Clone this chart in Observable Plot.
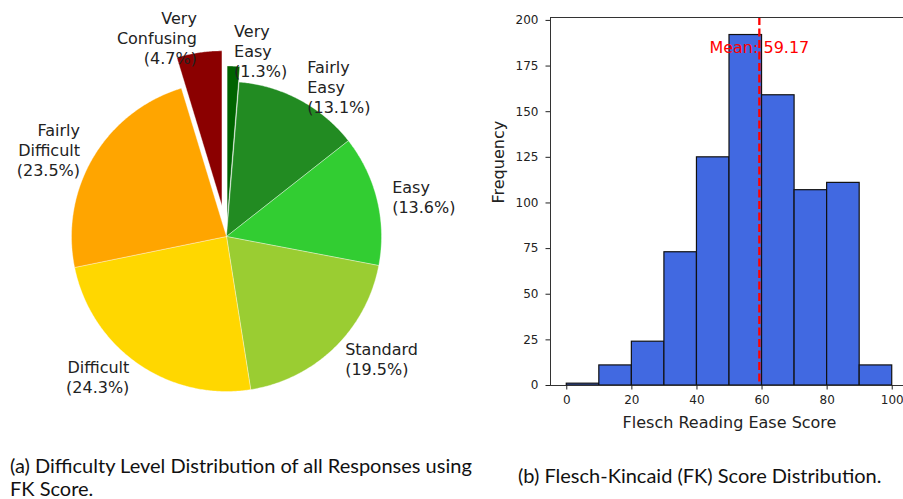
<!DOCTYPE html>
<html>
<head>
<meta charset="utf-8">
<script src="https://cdn.jsdelivr.net/npm/d3@7"></script>
<script src="https://cdn.jsdelivr.net/npm/@observablehq/plot@0.6"></script>
<style>
  html, body { margin: 0; padding: 0; background: #fff; }
  #page { position: relative; width: 903px; height: 499px; overflow: hidden; background: #fff; }
  #pie { position: absolute; left: 0; top: 0; width: 480px; height: 430px; }
  #hist { position: absolute; left: 480px; top: 0; width: 423px; height: 440px; overflow: hidden; }
  #page svg { max-width: none !important; }
  .cap { position: absolute; font-family: Lato, "Open Sans", sans-serif; font-size: 20px; color: #111; white-space: nowrap; line-height: 20px; height: 20px; }
</style>
</head>
<body>
<div id="page">
  <div id="pie"></div>
  <div id="hist"></div>
  <div class="cap" style="left:10px; top:455px;">(a) Difficulty Level Distribution of all Responses using</div>
  <div class="cap" style="left:10px; top:478px;">FK Score.</div>
  <div class="cap" style="left:518px; top:465px;">(b) Flesch-Kincaid (FK) Score Distribution.</div>
</div>
<script>
// ---------- Pie data ----------
const categories = ["Very Easy", "Fairly Easy", "Easy", "Standard", "Difficult", "Fairly Difficult", "Very Confusing"];
const labelLines = ["Very\nEasy", "Fairly\nEasy", "Easy", "Standard", "Difficult", "Fairly\nDifficult", "Very\nConfusing"];
const percents = [1.3, 13.1, 13.6, 19.5, 24.3, 23.5, 4.7];
const explode = [0.1, 0, 0, 0, 0, 0, 0.2];
const sliceColors = ["#006400", "#228B22", "#32CD32", "#9ACD32", "#FFD700", "#FFA500", "#8B0000"];

// ---------- Histogram data ----------
const binStarts = [0, 10, 20, 30, 40, 50, 60, 70, 80, 90];
const binWidth = 10;
const counts = [1, 11, 24, 73, 125, 192, 159, 107, 111, 11];
const meanScore = 59.17;
const xTicks = [0, 20, 40, 60, 80, 100];
const yTicks = [0, 25, 50, 75, 100, 125, 150, 175, 200];

// ---------- Pie geometry (angles from data, clockwise from top) ----------
const total = d3.sum(percents);
let cum = 0;
const slices = categories.map((c, i) => {
  const a0 = cum / total * 2 * Math.PI;
  cum += percents[i];
  const a1 = cum / total * 2 * Math.PI;
  const mid = (a0 + a1) / 2;
  const ox = explode[i] * Math.sin(mid), oy = explode[i] * Math.cos(mid);
  const pts = [{x: ox, y: oy}];
  const n = Math.max(2, Math.ceil((a1 - a0) / (Math.PI / 360)));
  for (let k = 0; k <= n; k++) {
    const a = a0 + (a1 - a0) * k / n;
    pts.push({x: ox + Math.sin(a), y: oy + Math.cos(a)});
  }
  pts.push({x: ox, y: oy});
  return {name: c, color: sliceColors[i], pts,
    lx: ox + 1.1 * Math.sin(mid), ly: oy + 1.1 * Math.cos(mid),
    label: labelLines[i] + "\n(" + percents[i].toFixed(1) + "%)"};
});

const R = 155, cx = 226, cy = 236, PW = 480, PH = 430;
const pieFont = {fontFamily: "DejaVu Sans", fontSize: 16, lineHeight: 1.25, fill: "#222", lineAnchor: "middle"};
const pie = Plot.plot({
  width: PW, height: PH, margin: 0,
  style: {background: "transparent"},
  x: {domain: [-cx / R, (PW - cx) / R], axis: null},
  y: {domain: [-(PH - cy) / R, cy / R], axis: null},
  marks: [
    ...slices.map(s => Plot.line(s.pts, {x: "x", y: "y", fill: s.color, stroke: "white", strokeWidth: 0.6, strokeOpacity: 0.6})),
    Plot.text(slices.filter(s => s.lx >= 0), {x: "lx", y: "ly", text: "label", textAnchor: "start", ...pieFont}),
    Plot.text(slices.filter(s => s.lx < 0), {x: "lx", y: "ly", text: "label", textAnchor: "end", ...pieFont})
  ]
});
document.getElementById("pie").appendChild(pie);

// ---------- Histogram ----------
const bins = binStarts.map((b, i) => ({x1: b, x2: b + binWidth, count: counts[i]}));
const tickFont = {fontFamily: "DejaVu Sans", fontSize: 12};
const hist = Plot.plot({
  width: 433, height: 440,
  marginLeft: 70, marginRight: 5, marginTop: 17, marginBottom: 55,
  style: {fontFamily: "DejaVu Sans", color: "#222", background: "white", maxWidth: "none"},
  x: {domain: [-5, 105]},
  y: {domain: [0, 201.6]},
  marks: [
    Plot.rectY(bins, {x1: "x1", x2: "x2", y: "count", fill: "#4169E1", stroke: "#111", strokeWidth: 1.2}),
    Plot.text([meanScore], {x: d => d, y: 185, text: d => "Mean: " + d.toFixed(2), fill: "red", fontSize: 16, fontFamily: "DejaVu Sans", textAnchor: "middle", lineAnchor: "middle"}),
    Plot.ruleX([meanScore], {stroke: "red", strokeWidth: 2.3, strokeDasharray: "8,3.5"}),
    Plot.frame({stroke: "#333", strokeWidth: 1}),
    Plot.axisX({ticks: xTicks, tickSize: 4.5, tickPadding: 5, label: null, ...tickFont}),
    Plot.axisY({ticks: yTicks, tickSize: 4.5, tickPadding: 7.5, label: null, ...tickFont}),
    Plot.text(["Flesch Reading Ease Score"], {frameAnchor: "bottom", dy: 37, text: d => d, fontSize: 16, fontFamily: "DejaVu Sans", fill: "#222", lineAnchor: "middle"}),
    Plot.text(["Frequency"], {frameAnchor: "left", dx: -52, dy: 2, rotate: -90, text: d => d, fontSize: 16, fontFamily: "DejaVu Sans", fill: "#222", lineAnchor: "middle"})
  ]
});
document.getElementById("hist").appendChild(hist);
</script>
</body>
</html>
